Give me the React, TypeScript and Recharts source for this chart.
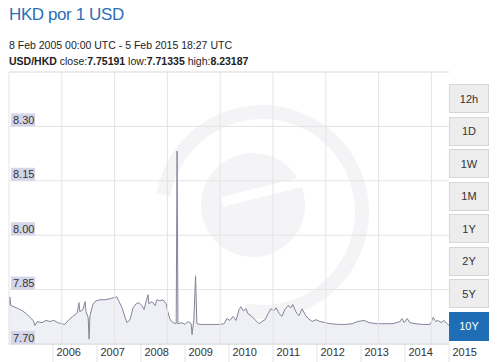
import { AreaChart, Area, XAxis, YAxis, CartesianGrid, ReferenceLine } from 'recharts';

// decimal years and USD/HKD rates
const times = [
  2005.0, 2005.02, 2005.04, 2005.11, 2005.2, 2005.3, 2005.39, 2005.48, 2005.55, 2005.59,
  2005.64, 2005.75, 2005.84, 2005.93, 2006.02, 2006.11, 2006.2, 2006.27, 2006.36, 2006.45,
  2006.55, 2006.59, 2006.61, 2006.68, 2006.73, 2006.75, 2006.8, 2006.82, 2006.84, 2006.91,
  2006.98, 2007.07, 2007.18, 2007.3, 2007.39, 2007.45, 2007.5, 2007.57, 2007.64, 2007.68,
  2007.75, 2007.82, 2007.89, 2007.95, 2008.02, 2008.07, 2008.11, 2008.16, 2008.18, 2008.25,
  2008.32, 2008.36, 2008.43, 2008.5, 2008.57, 2008.61, 2008.66, 2008.73, 2008.8, 2008.82,
  2008.84, 2008.93, 2009.0, 2009.07, 2009.14, 2009.16, 2009.2, 2009.24, 2009.27, 2009.34,
  2009.45, 2009.57, 2009.68, 2009.8, 2009.89, 2009.95, 2010.02, 2010.09, 2010.16, 2010.23,
  2010.27, 2010.32, 2010.39, 2010.43, 2010.5, 2010.59, 2010.68, 2010.75, 2010.82, 2010.89,
  2010.95, 2011.02, 2011.07, 2011.14, 2011.2, 2011.27, 2011.34, 2011.41, 2011.45, 2011.52,
  2011.59, 2011.66, 2011.73, 2011.8, 2011.89, 2011.98, 2012.07, 2012.18, 2012.3, 2012.48,
  2012.66, 2012.8, 2012.93, 2013.07, 2013.18, 2013.34, 2013.55, 2013.73, 2013.89, 2013.93,
  2013.98, 2014.05, 2014.11, 2014.23, 2014.39, 2014.57, 2014.64, 2014.7, 2014.75, 2014.82,
  2014.89, 2014.95, 2015.0,
];
const rates = [
  7.808, 7.83, 7.806, 7.803, 7.798, 7.792, 7.784, 7.773, 7.765, 7.751,
  7.762, 7.759, 7.765, 7.762, 7.765, 7.759, 7.756, 7.754, 7.767, 7.776,
  7.786, 7.814, 7.789, 7.795, 7.817, 7.789, 7.773, 7.7134, 7.778, 7.811,
  7.819, 7.822, 7.822, 7.825, 7.828, 7.83, 7.817, 7.8, 7.773, 7.759,
  7.767, 7.8, 7.811, 7.814, 7.806, 7.795, 7.814, 7.836, 7.811, 7.817,
  7.806, 7.822, 7.819, 7.822, 7.811, 7.789, 7.767, 7.759, 7.756, 8.2319,
  7.756, 7.759, 7.754, 7.762, 7.756, 7.726, 7.765, 7.888, 7.756, 7.754,
  7.754, 7.754, 7.754, 7.754, 7.756, 7.77, 7.765, 7.776, 7.765, 7.795,
  7.803, 7.792, 7.797, 7.784, 7.778, 7.767, 7.756, 7.762, 7.767, 7.784,
  7.797, 7.792, 7.8, 7.784, 7.776, 7.795, 7.806, 7.8, 7.809, 7.789,
  7.778, 7.797, 7.781, 7.77, 7.762, 7.767, 7.762, 7.759, 7.756, 7.754,
  7.754, 7.756, 7.762, 7.765, 7.759, 7.756, 7.756, 7.756, 7.762, 7.77,
  7.759, 7.77, 7.759, 7.756, 7.754, 7.754, 7.773, 7.762, 7.765, 7.759,
  7.765, 7.756, 7.7519,
];

const yearTicks = [2006, 2007, 2008, 2009, 2010, 2011, 2012, 2013, 2014, 2015];
const gridTimes = [2005, 2006.2, 2007.4, 2008.6, 2009.8, 2011, 2012.2, 2013.4, 2014.6];
const rateTicks = [7.7, 7.85, 8.0, 8.15, 8.3];
const ranges = ['12h', '1D', '1W', '1M', '1Y', '2Y', '5Y', '10Y'];

const data = times.map((t, i) => ({ t, rate: rates[i] }));

const FONT = '"Liberation Sans", Arial, sans-serif';
const PLOT_LEFT = 9;
const PLOT_BOTTOM = 344;
const GRID = '#e4e4e4';
const MARK = '#f4f4f7';

function RateTick({ y, payload }: any) {
  return (
    <g>
      <rect x={PLOT_LEFT + 2} y={y - 13} width={24} height={13} fill="#d5d5ea" />
      <text x={PLOT_LEFT + 4} y={y - 2.5} fontSize={11} fill="#333" fontFamily={FONT}>
        {Number(payload.value).toFixed(2)}
      </text>
    </g>
  );
}

function YearTick({ x, payload }: any) {
  return (
    <g>
      <line x1={x} y1={PLOT_BOTTOM} x2={x} y2={362} stroke={GRID} />
      <text x={x + 3.5} y={356} fontSize={11} fill="#333" fontFamily={FONT}>
        {payload.value}
      </text>
    </g>
  );
}

export default function App() {
  return (
    <div style={{ position: 'relative', width: 499, height: 362, overflow: 'hidden', background: '#fff' }}>
      <style>{'body{margin:0}'}</style>
      {/* faint xe watermark */}
      <svg width={499} height={362} style={{ position: 'absolute', left: 0, top: 0 }}>
        <path d="M 163.5 194.6 A 100 100 0 1 1 244.6 310.5" fill="none" stroke={MARK} strokeWidth={14} />
        <circle cx={253} cy={205} r={52} fill={MARK} />
        <line x1={222} y1={202} x2={302} y2={182} stroke="#fff" strokeWidth={10} />
      </svg>
      <div style={{ position: 'absolute', left: 0, top: 0 }}>
        <AreaChart width={499} height={362} data={data} margin={{ top: 72, right: 50, bottom: 0, left: PLOT_LEFT - 1 }}>
          <CartesianGrid horizontal vertical={false} stroke={GRID} />
          {gridTimes.map((g) => (
            <ReferenceLine key={g} x={g} stroke={GRID} />
          ))}
          <ReferenceLine y={8.45} stroke={GRID} />
          <XAxis
            type="number"
            dataKey="t"
            domain={[2005, 2015]}
            ticks={yearTicks}
            height={18}
            tickLine={false}
            axisLine={{ stroke: '#d8d8d8' }}
            tick={<YearTick />}
            interval={0}
            allowDataOverflow
          />
          <YAxis
            type="number"
            domain={[7.7, 8.45]}
            ticks={rateTicks}
            width={1}
            axisLine={false}
            tickLine={false}
            tick={<RateTick />}
            interval={0}
            allowDataOverflow
          />
          <Area
            type="linear"
            dataKey="rate"
            stroke="#85859a"
            strokeWidth={1}
            fill="#efeff6"
            fillOpacity={1}
            isAnimationActive={false}
            dot={false}
            activeDot={false}
          />
        </AreaChart>
      </div>
      <svg width={499} height={72} style={{ position: 'absolute', left: 0, top: 0 }}>
        <text x={9} y={20} fontSize={17} letterSpacing={-0.4} fill="#2b6fb6" fontFamily={FONT}>
          HKD por 1 USD
        </text>
        <text x={9} y={49} fontSize={10.5} fill="#222" fontFamily={FONT}>
          8 Feb 2005 00:00 UTC - 5 Feb 2015 18:27 UTC
        </text>
        <text x={9} y={65} fontSize={10.5} fill="#222" fontFamily={FONT}>
          <tspan fontWeight="bold">USD/HKD</tspan>
          <tspan> close:</tspan>
          <tspan fontWeight="bold">7.75191</tspan>
          <tspan> low:</tspan>
          <tspan fontWeight="bold">7.71335</tspan>
          <tspan> high:</tspan>
          <tspan fontWeight="bold">8.23187</tspan>
        </text>
      </svg>
      {ranges.map((r, i) => {
        const active = r === '10Y';
        return (
          <div
            key={r}
            style={{
              position: 'absolute',
              left: 449,
              top: 84 + i * 32.5,
              width: 40,
              height: 29,
              boxSizing: 'border-box',
              border: `1px solid ${active ? '#1f6db5' : '#d6d6d6'}`,
              background: active ? '#1f6db5' : '#ededed',
              color: active ? '#fff' : '#333',
              fontFamily: FONT,
              fontSize: 11,
              display: 'flex',
              alignItems: 'center',
              justifyContent: 'center',
            }}
          >
            {r}
          </div>
        );
      })}
    </div>
  );
}
